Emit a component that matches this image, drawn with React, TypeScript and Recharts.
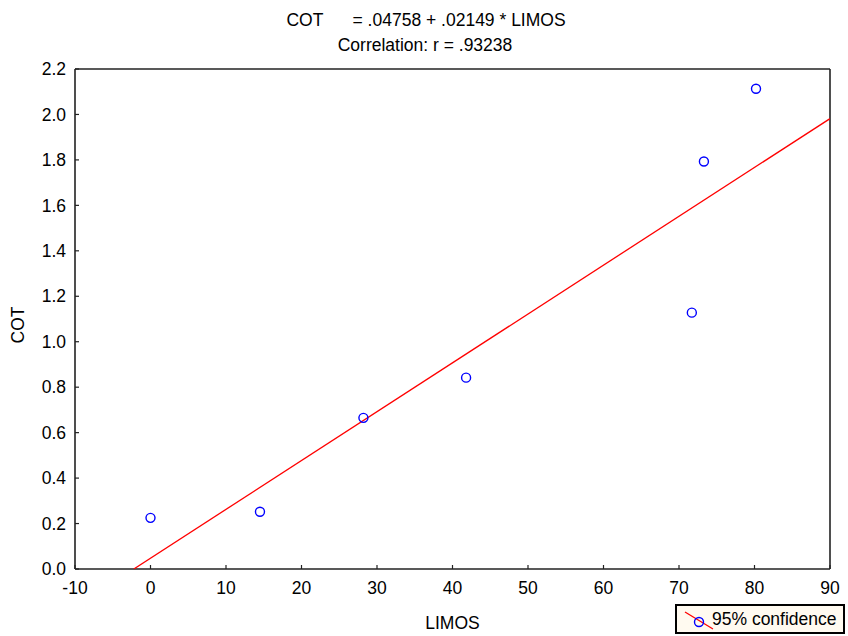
import React from 'react';
import { ScatterChart, Scatter, XAxis, YAxis, Label } from 'recharts';

const limos = [0, 14.5, 28.2, 41.8, 71.7, 73.3, 80.2];
const cot = [0.225, 0.252, 0.665, 0.842, 1.128, 1.793, 2.113];
const fitX = [-2.21, 90];
const fitY = [0, 1.9817];
const xTicks = [-10, 0, 10, 20, 30, 40, 50, 60, 70, 80, 90];
const yTicks = [0, 0.2, 0.4, 0.6, 0.8, 1.0, 1.2, 1.4, 1.6, 1.8, 2.0, 2.2];
const titleLine1 = 'COT\u00a0\u00a0\u00a0\u00a0\u00a0\u00a0= .04758 + .02149 * LIMOS';
const titleLine2 = 'Correlation: r = .93238';
const legendLabel = '95% confidence';

const points = limos.map((x, i) => ({ x, y: cot[i] }));
const fit = fitX.map((x, i) => ({ x, y: fitY[i] }));

const FONT = '"Liberation Sans", Arial, sans-serif';
const FS = 17.5;
const TICK = -4;
const AX = { stroke: '#222', strokeWidth: 1.6 };
const TL = { stroke: '#222', strokeWidth: 1.2 };
const tickStyle = { fontSize: FS, fontFamily: FONT, fill: '#000' };

const Dot = (p: any) => (
  <circle cx={p.cx} cy={p.cy} r={4.5} fill="none" stroke="#0000ff" strokeWidth={1.4} />
);
const NoDot = () => <g />;

const YLabel = (p: any) => {
  const vb = p.viewBox || { x: 0, y: 69, width: 75, height: 500 };
  const cx = vb.x + 18;
  const cy = vb.y + vb.height / 2 + 6;
  return (
    <text x={cx} y={cy} transform={`rotate(-90 ${cx} ${cy})`} textAnchor="middle" dominantBaseline="central" fontSize={FS} fontFamily={FONT} fill="#000">
      COT
    </text>
  );
};

export default function App() {
  return (
    <div style={{ position: 'absolute', left: 0, top: 0, width: 848, height: 636, background: '#fff', fontFamily: FONT }}>
      <div style={{ position: 'absolute', left: 0, top: 9, width: 852, textAlign: 'center', fontSize: FS, lineHeight: '22px', color: '#000' }}>
        {titleLine1}
      </div>
      <div style={{ position: 'absolute', left: 0, top: 34, width: 850, textAlign: 'center', fontSize: FS, lineHeight: '22px', color: '#000' }}>
        {titleLine2}
      </div>
      <ScatterChart width={848} height={636} margin={{ top: 68, right: 17, bottom: 0, left: 0 }}>
        <XAxis xAxisId="b" dataKey="x" type="number" domain={[-10, 90]} ticks={xTicks} orientation="bottom" height={67}
          tickSize={TICK} tickMargin={17} tickLine={TL} tick={tickStyle} axisLine={AX} allowDataOverflow interval={0}>
          <Label value="LIMOS" position="insideBottom" offset={7} fontSize={FS} fontFamily={FONT} fill="#000" />
        </XAxis>
        <XAxis xAxisId="t" dataKey="x" type="number" domain={[-10, 90]} ticks={xTicks} orientation="top" height={1}
          tickSize={TICK} tickMargin={0} tickLine={TL} tick={false} axisLine={AX} allowDataOverflow interval={0} />
        <YAxis yAxisId="l" dataKey="y" type="number" domain={[0, 2.2]} ticks={yTicks} orientation="left" width={75}
          tickSize={TICK} tickMargin={13} tickLine={TL} tick={tickStyle} tickFormatter={(v: number) => v.toFixed(1)}
          axisLine={AX} allowDataOverflow interval={0}>
          <Label content={<YLabel />} />
        </YAxis>
        <YAxis yAxisId="r" dataKey="y" type="number" domain={[0, 2.2]} ticks={yTicks} orientation="right" width={1}
          tickSize={TICK} tickMargin={0} tickLine={TL} tick={false} axisLine={AX} allowDataOverflow interval={0} />
        <Scatter xAxisId="t" yAxisId="r" data={points} shape={<NoDot />} isAnimationActive={false} />
        <Scatter xAxisId="b" yAxisId="l" data={fit} line={{ stroke: '#ff0000', strokeWidth: 1.3 }} shape={<NoDot />} isAnimationActive={false} />
        <Scatter xAxisId="b" yAxisId="l" data={points} shape={<Dot />} isAnimationActive={false} />
      </ScatterChart>
      <div style={{ position: 'absolute', left: 675, top: 604, width: 170, height: 30, border: '2px solid #000', background: '#fffaf0', boxSizing: 'border-box' }}>
        <svg width={32} height={26} style={{ position: 'absolute', left: 5, top: 1 }}>
          <line x1={3} y1={5} x2={31} y2={22} stroke="#ff0000" strokeWidth={1.3} />
          <circle cx={17} cy={15} r={4.5} fill="none" stroke="#0000ff" strokeWidth={1.4} />
        </svg>
        <div style={{ position: 'absolute', left: 35, top: 2, fontSize: FS, lineHeight: '23px', color: '#000', whiteSpace: 'nowrap' }}>
          {legendLabel}
        </div>
      </div>
    </div>
  );
}
